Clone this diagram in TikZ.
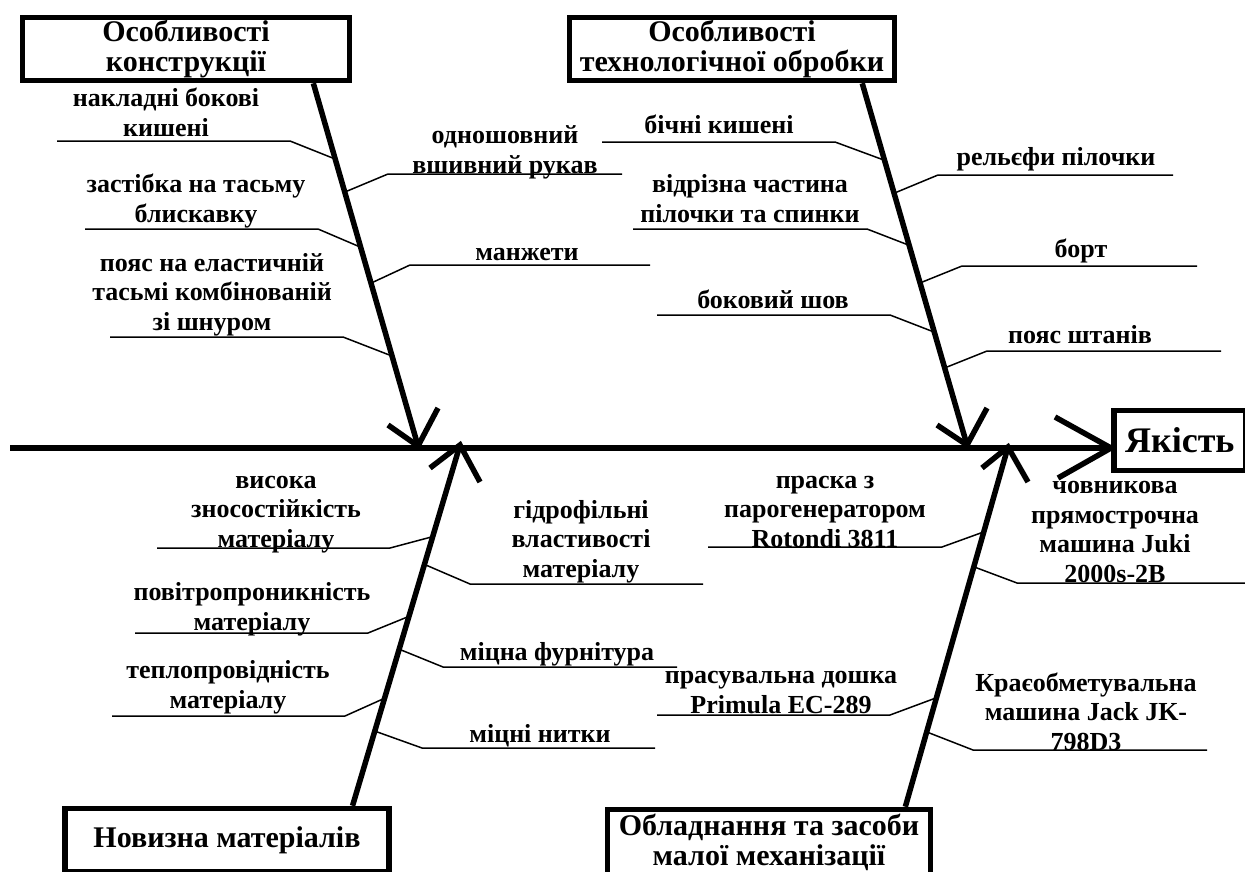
\documentclass[tikz,border=0pt]{standalone}
\usepackage{fontspec}
\setmainfont{Liberation Serif}
\usetikzlibrary{calc}
\begin{document}
\begin{tikzpicture}[x=1pt,y=-1pt,
  lbl/.style={font=\bfseries\fontsize{26}{29.5}\selectfont, align=center, anchor=base, inner sep=0pt},
  hdr/.style={draw, line width=5.5pt, fill=white, font=\bfseries\fontsize{30}{30}\selectfont, align=center, inner sep=0pt},
  bone/.style={line width=5.5pt},
  rib/.style={line width=1.5pt}]
\useasboundingbox (0,0) rectangle (1245,871);
\fill[white] (0,0) rectangle (1245,871);

% header boxes
\node[hdr, minimum width=327, minimum height=63] (h1) at (186,49) {Особливості\\конструкції};
\node[hdr, minimum width=325, minimum height=63] (h2) at (732,49) {Особливості\\технологічної обробки};
\node[hdr, minimum width=324, minimum height=63] (h3) at (227,840) {Новизна матеріалів};
\node[hdr, minimum width=323, minimum height=66] (h4) at (769,842.5) {Обладнання та засоби\\малої механізації};

% bone end points
\coordinate (b1s) at ($(h1.south west)!0.883!(h1.south east)$);
\coordinate (b1e) at (418,446);
\coordinate (b2s) at ($(h2.south west)!0.894!(h2.south east)$);
\coordinate (b2e) at (967,445);
\coordinate (b3s) at ($(h3.north west)!0.881!(h3.north east)$);
\coordinate (b3e) at (460,445);
\coordinate (b4s) at ($(h4.north west)!0.915!(h4.north east)$);
\coordinate (b4e) at (1008,447);
\coordinate (sps) at (10,448);

% ribs of bone 1
\coordinate (f1) at (57,141);  \coordinate (k1) at (290,141);
\coordinate (f2) at (85,229);  \coordinate (k2) at (318,229);
\coordinate (f3) at (110,337); \coordinate (k3) at (343,337);
\coordinate (f4) at (622,174); \coordinate (k4) at (388,174);
\coordinate (f5) at (650,265); \coordinate (k5) at (410,265);
\draw[rib] (f1) -- (k1) -- ($(b1s)!0.209!(b1e)$);
\draw[rib] (f2) -- (k2) -- ($(b1s)!0.452!(b1e)$);
\draw[rib] (f3) -- (k3) -- ($(b1s)!0.752!(b1e)$);
\draw[rib] (f4) -- (k4) -- ($(b1s)!0.300!(b1e)$);
\draw[rib] (f5) -- (k5) -- ($(b1s)!0.551!(b1e)$);

% ribs of bone 2
\coordinate (f6) at (602,142);  \coordinate (k6) at (835,142);
\coordinate (f7) at (633,229);  \coordinate (k7) at (867,229);
\coordinate (f8) at (657,315);  \coordinate (k8) at (890,315);
\coordinate (f9) at (1173,175); \coordinate (k9) at (938,175);
\coordinate (f10) at (1197,266); \coordinate (k10) at (962,266);
\coordinate (f11) at (1221,351); \coordinate (k11) at (987,351);
\draw[rib] (f6) -- (k6) -- ($(b2s)!0.213!(b2e)$);
\draw[rib] (f7) -- (k7) -- ($(b2s)!0.448!(b2e)$);
\draw[rib] (f8) -- (k8) -- ($(b2s)!0.688!(b2e)$);
\draw[rib] (f9) -- (k9) -- ($(b2s)!0.304!(b2e)$);
\draw[rib] (f10) -- (k10) -- ($(b2s)!0.552!(b2e)$);
\draw[rib] (f11) -- (k11) -- ($(b2s)!0.787!(b2e)$);

% ribs of bone 3
\coordinate (f12) at (157,548); \coordinate (k12) at (390,548);
\coordinate (f13) at (135,633); \coordinate (k13) at (368,633);
\coordinate (f14) at (112,716); \coordinate (k14) at (345,716);
\coordinate (f15) at (703,584); \coordinate (k15) at (470,584);
\coordinate (f16) at (677,667); \coordinate (k16) at (443,667);
\coordinate (f17) at (655,748); \coordinate (k17) at (422,748);
\draw[rib] (f12) -- (k12) -- ($(b3s)!0.746!(b3e)$);
\draw[rib] (f13) -- (k13) -- ($(b3s)!0.525!(b3e)$);
\draw[rib] (f14) -- (k14) -- ($(b3s)!0.298!(b3e)$);
\draw[rib] (f15) -- (k15) -- ($(b3s)!0.669!(b3e)$);
\draw[rib] (f16) -- (k16) -- ($(b3s)!0.434!(b3e)$);
\draw[rib] (f17) -- (k17) -- ($(b3s)!0.207!(b3e)$);

% ribs of bone 4
\coordinate (f18) at (708,547); \coordinate (k18) at (942,547);
\coordinate (f19) at (657,715); \coordinate (k19) at (890,715);
\coordinate (f20) at (1245,583); \coordinate (k20) at (1017,583);
\coordinate (f21) at (1207,750); \coordinate (k21) at (973,750);
\draw[rib] (f18) -- (k18) -- ($(b4s)!0.764!(b4e)$);
\draw[rib] (f19) -- (k19) -- ($(b4s)!0.303!(b4e)$);
\draw[rib] (f20) -- (k20) -- ($(b4s)!0.667!(b4e)$);
\draw[rib] (f21) -- (k21) -- ($(b4s)!0.208!(b4e)$);

% labels (placed at the baseline of their last line)
\node[lbl] (t1) at (166,136) {накладні бокові\\кишені};
\node[lbl] (t2) at (196,222) {застібка на тасьму\\блискавку};
\node[lbl] (t3) at (212,330) {пояс на еластичній\\тасьмі комбінованій\\зі шнуром};
\node[lbl] (t4) at (505,173) {одношовний\\вшивний рукав};
\node[lbl] (t5) at (527,260) {манжети};
\node[lbl] (t6) at (719,133) {бічні кишені};
\node[lbl] (t7) at (750,222) {відрізна частина\\пілочки та спинки};
\node[lbl] (t8) at (773,308) {боковий шов};
\node[lbl] (t9) at (1056,165) {рельєфи пілочки};
\node[lbl] (t10) at (1081,257) {борт};
\node[lbl] (t11) at (1080,343) {пояс штанів};
\node[lbl] (t12) at (276,547) {висока\\зносостійкість\\матеріалу};
\node[lbl] (t13) at (252,630) {повітропроникність\\матеріалу};
\node[lbl] (t14) at (228,708) {теплопровідність\\матеріалу};
\node[lbl] (t15) at (581,577) {гідрофільні\\властивості\\матеріалу};
\node[lbl] (t16) at (557,660) {міцна фурнітура};
\node[lbl] (t17) at (540,742) {міцні нитки};
\node[lbl] (t18) at (825,547) {праска з\\парогенератором\\Rotondi 3811};
\node[lbl] (t19) at (781,713) {прасувальна дошка\\Primula EC-289};
\node[lbl] (t20) at (1115,582) {човникова\\прямострочна\\машина Juki\\2000s-2B};
\node[lbl] (t21) at (1086,750) {Краєобметувальна\\машина Jack JK-\\798D3};

% result box
\node[hdr, font=\bfseries\fontsize{36}{40}\selectfont, minimum width=132, minimum height=60, anchor=west] (q) at (1111,440.5) {Якість};
\coordinate (qin) at (q.west |- sps);

% bones with open arrow heads
\draw[bone] (b1s) -- (b1e);
\draw[bone] (388,425) -- (b1e) -- (438,408);
\draw[bone] (b2s) -- (b2e);
\draw[bone] (937,425) -- (b2e) -- (987,408);
\draw[bone] (b3s) -- (b3e);
\draw[bone] (430,468) -- (b3e) -- (480,482);
\draw[bone] (b4s) -- (b4e);
\draw[bone] (982,468) -- (b4e) -- (1028,482);
\draw[bone] (sps) -- (qin);
\draw[bone] (1055,417) -- (qin) -- (1058,478);
\end{tikzpicture}
\end{document}
